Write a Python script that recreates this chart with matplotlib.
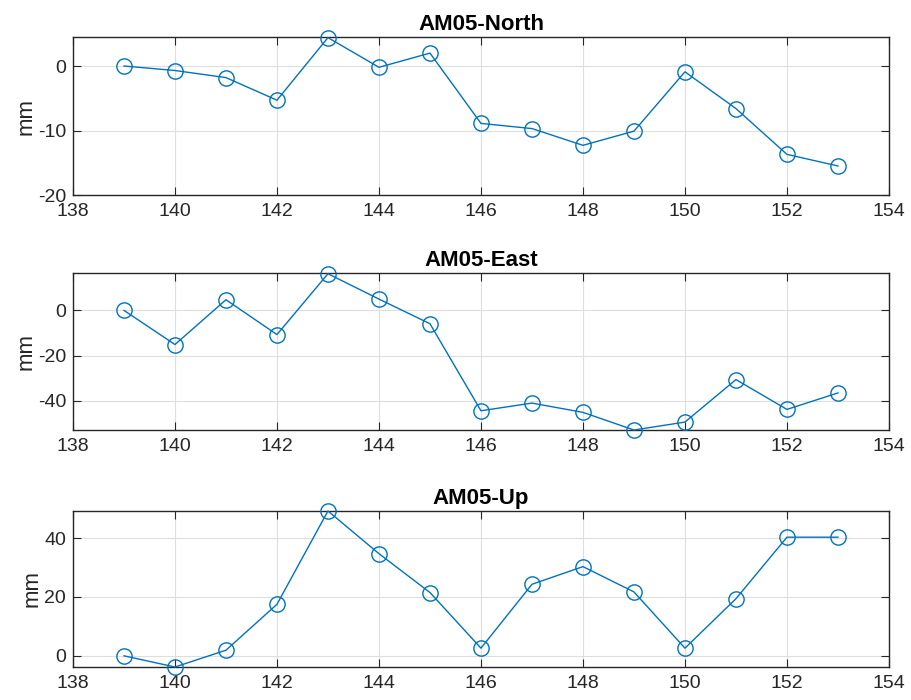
import matplotlib
matplotlib.use("Agg")
import matplotlib.pyplot as plt

plt.rcParams['font.family'] = ['Liberation Sans', 'DejaVu Sans']
plt.rcParams['axes.unicode_minus'] = False

# Day of year
days = [139, 140, 141, 142, 143, 144, 145, 146, 147, 148, 149, 150, 151, 152, 153]

# Displacements (mm) for station AM05
north = [0.0, -0.7, -1.8, -5.3, 4.4, -0.2, 2.0, -8.9, -9.7, -12.3, -10.1, -0.9, -6.6, -13.7, -15.5]
east = [0.0, -15.1, 4.7, -10.7, 16.2, 5.0, -5.9, -44.4, -41.0, -45.1, -52.9, -49.4, -30.6, -43.8, -36.5]
up = [0.0, -3.8, 1.9, 17.5, 49.2, 34.7, 21.5, 2.6, 24.3, 30.3, 21.7, 2.6, 19.4, 40.3, 40.3]

titles = ["AM05-North", "AM05-East", "AM05-Up"]
series = [north, east, up]
ylims = [(-20, 4.45), (-52.9, 16.4), (-3.7, 49.3)]
yticks = [[-20, -10, 0], [-40, -20, 0], [0, 20, 40]]
xticks = [138, 140, 142, 144, 146, 148, 150, 152, 154]

blue = "#0072BD"
frame = "#262626"

fig = plt.figure(figsize=(9.11, 7.0), dpi=100)
fig.patch.set_facecolor("white")

# [left, bottom, width, height] in figure fractions
panel_rects = [
    [0.0801, 1 - 195 / 700, 0.8957, (195 - 37.3) / 700],
    [0.0801, 1 - 430 / 700, 0.8957, (430 - 273.3) / 700],
    [0.0801, 1 - 666.7 / 700, 0.8957, (666.7 - 510.7) / 700],
]

for rect, title, vals, yl, yt in zip(panel_rects, titles, series, ylims, yticks):
    ax = fig.add_axes(rect)
    ax.plot(days, vals, color=blue, linewidth=1.0, marker="o", markersize=11,
            markerfacecolor="none", markeredgecolor=blue, markeredgewidth=1.0,
            clip_on=False, zorder=3)
    ax.set_xlim(138, 154)
    ax.set_ylim(*yl)
    ax.set_xticks(xticks)
    ax.set_yticks(yt)
    ax.grid(True, color="#dedede", linewidth=0.8)
    ax.set_axisbelow(True)
    for s in ax.spines.values():
        s.set_color(frame)
        s.set_linewidth(1.0)
    ax.tick_params(direction="in", length=6, width=0.8, color=frame,
                   labelsize=14, labelcolor=frame, top=True, right=True)
    ax.tick_params(axis="x", pad=6)
    ax.tick_params(axis="y", pad=5)
    ax.set_title(title, fontsize=16, fontweight="bold", color="black", pad=5)
    ax.set_ylabel("mm", fontsize=16, color=frame, labelpad=1)

fig.savefig("out.png", dpi=100, facecolor="white")
